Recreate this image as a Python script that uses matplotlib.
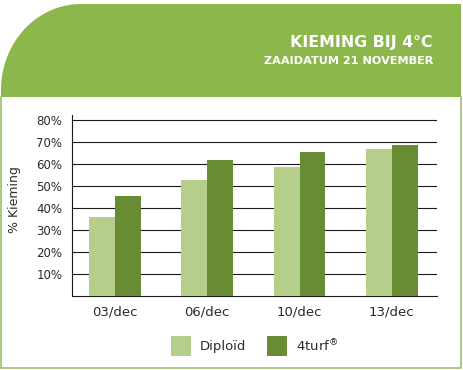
import numpy as np
import matplotlib
matplotlib.use("Agg")
import matplotlib.pyplot as plt
from matplotlib.patches import Rectangle, Polygon

# ---- data ----
categories = ["03/dec", "06/dec", "10/dec", "13/dec"]
series_names = ["Diploïd", "4turf®"]
diploid = [36.0, 52.7, 58.6, 66.8]
turf4 = [45.5, 61.8, 65.5, 68.6]
yticks = [10, 20, 30, 40, 50, 60, 70, 80]
ytick_labels = ["10%", "20%", "30%", "40%", "50%", "60%", "70%", "80%"]
title = "KIEMING BIJ 4°C"
subtitle = "ZAAIDATUM 21 NOVEMBER"
ylabel = "% Kieming"

LIGHT = "#b5cf8b"
DARK = "#678c34"
HEADER = "#8cb84b"
BORDER = "#9cc06a"
TXT = "#2b2b2b"

W, H = 464, 370
fig = plt.figure(figsize=(W / 100, H / 100), dpi=100)
fig.patch.set_facecolor("white")

# background axes in pixel coordinates
bg = fig.add_axes([0, 0, 1, 1])
bg.set_xlim(0, W)
bg.set_ylim(H, 0)
bg.axis("off")

# header with rounded top-left corner
rx, ry = 80, 86
t = np.linspace(np.pi, 1.5 * np.pi, 60)
cx, cy = 1 + rx, 4 + ry
arc = np.column_stack([cx + rx * np.cos(t), cy + ry * np.sin(t)])
pts = np.vstack([[[1, 97]], arc, [[461, 4], [461, 97]]])
bg.add_patch(Polygon(pts, closed=True, facecolor=HEADER, edgecolor="none"))

# box border
bg.plot([1.5, 1.5, 461, 461], [97, 367.5, 367.5, 97], color=BORDER, lw=1.2,
        solid_joinstyle="miter")

bg.text(433, 42, title, color="white", fontsize=11.3, fontweight="bold",
        family="DejaVu Sans", ha="right", va="center")
bg.text(433, 61.5, subtitle, color="white", fontsize=8.1, fontweight="bold",
        family="DejaVu Sans", ha="right", va="center")

# legend (manual)
def disp(name):
    return name.replace("®", r"$^{\circledR}$")

leg_x = [171, 267]
for lx, name, col in zip(leg_x, series_names, [LIGHT, DARK]):
    bg.add_patch(Rectangle((lx, 336), 20, 20, facecolor=col, edgecolor="none"))
    bg.text(lx + 29, 346.5, disp(name), color=TXT, fontsize=9.5, ha="left", va="center")

bg.text(15, 200, ylabel, color=TXT, fontsize=9, rotation=90, ha="center", va="center")

# main chart
ax = fig.add_axes([72 / W, 1 - 296 / H, 365 / W, 181 / H])
ax.set_facecolor("none")
x = np.arange(len(categories))
bw = 0.28
ax.bar(x - bw / 2, diploid, width=bw, color=LIGHT, zorder=3)
ax.bar(x + bw / 2, turf4, width=bw, color=DARK, zorder=3)
ax.set_xlim(-0.466, 3.49)
ax.set_ylim(0, 82.3)
ax.set_yticks(yticks)
ax.set_yticklabels(ytick_labels)
ax.set_xticks(x)
ax.set_xticklabels(categories)
for yv in yticks:
    ax.axhline(yv, color="#1a1a1a", lw=0.8, zorder=1)
for s in ["top", "right"]:
    ax.spines[s].set_visible(False)
for s in ["left", "bottom"]:
    ax.spines[s].set_color("#1a1a1a")
    ax.spines[s].set_linewidth(0.8)
ax.tick_params(axis="both", length=0, colors=TXT)
ax.tick_params(axis="y", labelsize=8.5, pad=7)
ax.tick_params(axis="x", labelsize=9.5, pad=7)

fig.savefig("out.png", dpi=100)
